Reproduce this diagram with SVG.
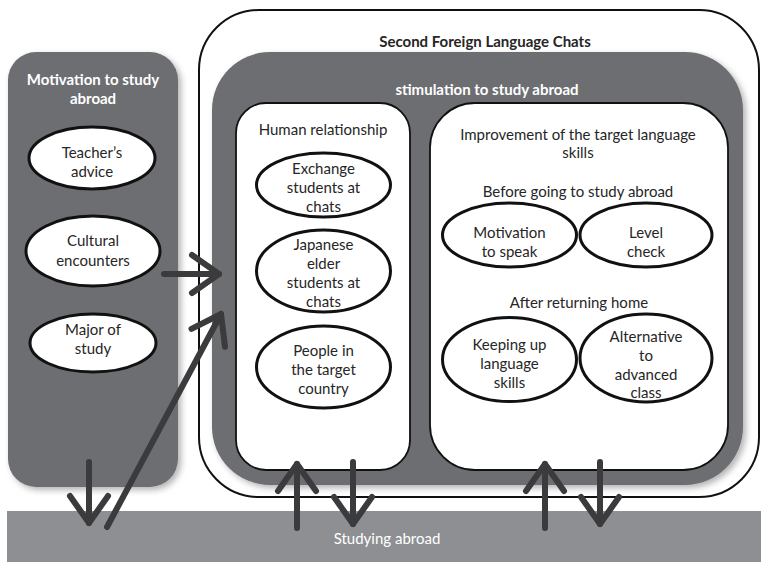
<svg xmlns="http://www.w3.org/2000/svg" width="761" height="562" viewBox="0 0 761 562">
<style>
.t{font-family:Lato,"Open Sans","Liberation Sans",sans-serif;font-size:15px;fill:#262626;text-anchor:middle}
.b{font-weight:bold}
.w{fill:#ffffff}
.ell{fill:#ffffff;stroke:#111111;stroke-width:3}
.box{fill:#ffffff;stroke:#111111;stroke-width:1.8}
.panel{fill:#6d6e72}
.arr{stroke:#3b3b3d;stroke-width:6;stroke-linecap:round;fill:none}
</style>
<defs>
<filter id="sh" x="-10%" y="-10%" width="130%" height="130%">
<feDropShadow dx="3" dy="3" stdDeviation="3" flood-color="#000" flood-opacity="0.3"/>
</filter>
<marker id="head" markerUnits="userSpaceOnUse" markerWidth="44" markerHeight="54" viewBox="-36 -27 44 54" refX="0" refY="0" orient="auto" overflow="visible">
<path d="M-27,-19 L0,0 L-27,19" fill="none" stroke="#3b3b3d" stroke-width="6" stroke-linecap="round" stroke-linejoin="round"/>
</marker>
</defs>
<rect width="761" height="562" fill="#ffffff"/>

<g id="studying-abroad">
<rect x="7" y="511" width="754" height="51" fill="#8e8f93"/>
<text class="t w" x="387" y="544">Studying abroad</text>
</g>

<g id="motivation-panel">
<rect class="panel" x="8" y="52" width="170" height="435" rx="28" filter="url(#sh)"/>
<text class="t b w" x="93" y="85">Motivation to study</text>
<text class="t b w" x="93" y="104">abroad</text>
</g>
<g id="teachers-advice">
<ellipse class="ell" cx="92" cy="158" rx="63" ry="31"/>
<text class="t" x="92" y="158">Teacher’s</text>
<text class="t" x="92" y="177">advice</text>
</g>
<g id="cultural-encounters">
<ellipse class="ell" cx="93" cy="251" rx="67" ry="35"/>
<text class="t" x="93" y="246">Cultural</text>
<text class="t" x="93" y="266">encounters</text>
</g>
<g id="major-of-study">
<ellipse class="ell" cx="93" cy="343" rx="63" ry="29"/>
<text class="t" x="93" y="335">Major of</text>
<text class="t" x="93" y="354">study</text>
</g>

<g id="second-foreign-language-chats">
<rect x="199" y="10" width="560" height="487" rx="60" fill="#ffffff" stroke="#111111" stroke-width="2"/>
<text class="t b" x="485" y="47">Second Foreign Language Chats</text>
</g>
<g id="stimulation">
<rect class="panel" x="212" y="52" width="531" height="433" rx="58" filter="url(#sh)"/>
<text class="t b w" x="487" y="95">stimulation to study abroad</text>
</g>

<g id="human-relationship">
<rect class="box" x="236" y="103" width="174" height="367" rx="30"/>
<text class="t" x="323" y="135">Human relationship</text>
</g>
<g id="exchange-students">
<ellipse class="ell" cx="323.5" cy="185" rx="67" ry="32"/>
<text class="t" x="323.5" y="174">Exchange</text>
<text class="t" x="323.5" y="193">students at</text>
<text class="t" x="323.5" y="212">chats</text>
</g>
<g id="japanese-elder-students">
<ellipse class="ell" cx="323.5" cy="271" rx="67" ry="41"/>
<text class="t" x="323.5" y="250">Japanese</text>
<text class="t" x="323.5" y="269">elder</text>
<text class="t" x="323.5" y="288">students at</text>
<text class="t" x="323.5" y="307">chats</text>
</g>
<g id="people-target-country">
<ellipse class="ell" cx="323.5" cy="367" rx="67" ry="41"/>
<text class="t" x="323.5" y="356">People in</text>
<text class="t" x="323.5" y="375">the target</text>
<text class="t" x="323.5" y="394">country</text>
</g>

<g id="improvement">
<rect class="box" x="430" y="103" width="298" height="367" rx="45"/>
<text class="t" x="578" y="140">Improvement of the target language</text>
<text class="t" x="578" y="158">skills</text>
<text class="t" x="578" y="197">Before going to study abroad</text>
<text class="t" x="579" y="308">After returning home</text>
</g>
<g id="motivation-to-speak">
<ellipse class="ell" cx="509.5" cy="235" rx="67" ry="32"/>
<text class="t" x="509.5" y="238">Motivation</text>
<text class="t" x="509.5" y="257">to speak</text>
</g>
<g id="level-check">
<ellipse class="ell" cx="646" cy="235" rx="66" ry="32"/>
<text class="t" x="646" y="238">Level</text>
<text class="t" x="646" y="257">check</text>
</g>
<g id="keeping-up">
<ellipse class="ell" cx="509.5" cy="359.5" rx="67" ry="42"/>
<text class="t" x="509.5" y="350">Keeping up</text>
<text class="t" x="509.5" y="369">language</text>
<text class="t" x="509.5" y="388">skills</text>
</g>
<g id="alternative">
<ellipse class="ell" cx="646" cy="358" rx="66" ry="44"/>
<text class="t" x="646" y="342">Alternative</text>
<text class="t" x="646" y="361">to</text>
<text class="t" x="646" y="380">advanced</text>
<text class="t" x="646" y="398">class</text>
</g>

<g id="connectors">
<line class="arr" x1="164" y1="274" x2="219" y2="274" marker-end="url(#head)"/>
<line class="arr" x1="107" y1="527" x2="221" y2="314" marker-end="url(#head)"/>
<line class="arr" x1="89" y1="462" x2="89" y2="523" marker-end="url(#head)"/>
<line class="arr" x1="297" y1="528" x2="297" y2="464" marker-end="url(#head)"/>
<line class="arr" x1="353" y1="462" x2="353" y2="524" marker-end="url(#head)"/>
<line class="arr" x1="545" y1="528" x2="545" y2="464" marker-end="url(#head)"/>
<line class="arr" x1="600" y1="462" x2="600" y2="524" marker-end="url(#head)"/>
</g>
</svg>
